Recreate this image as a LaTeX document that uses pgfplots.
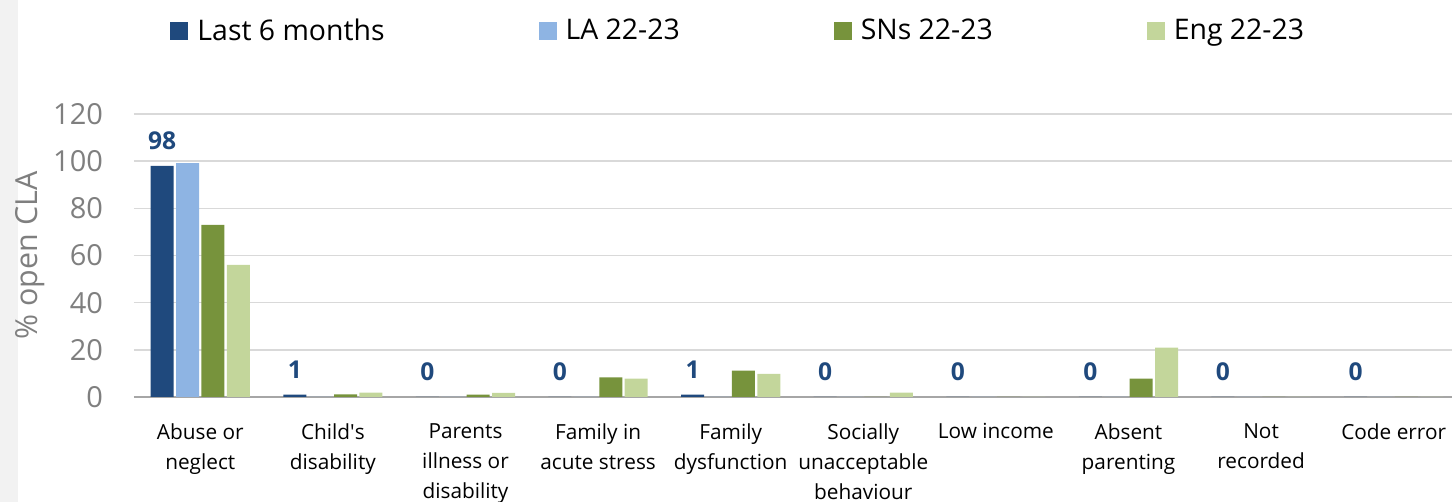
\documentclass[border=0pt]{standalone}
\usepackage{fontspec}
\setmainfont{Open Sans}
\usepackage{pgfplots}
\pgfplotsset{compat=1.18}
\definecolor{cA}{HTML}{1F497D}
\definecolor{cB}{HTML}{8EB4E3}
\definecolor{cC}{HTML}{77933C}
\definecolor{cD}{HTML}{C3D69B}
\definecolor{gridc}{HTML}{D9D9D9}
\definecolor{axc}{HTML}{A6A6A6}
\definecolor{tickc}{HTML}{7F7F7F}
\definecolor{strip}{HTML}{F2F2F2}
\pgfplotsset{sq/.style={legend image code/.code={\fill[##1] (0pt,-4.5pt) rectangle (9pt,4.5pt); \path (11.5pt,0pt);}}}
\begin{document}
\begin{tikzpicture}
\useasboundingbox (-67pt,-52.5pt) rectangle (659pt,198.5pt);
\fill[strip] (-67pt,-52.5pt) rectangle (-58pt,198.5pt);
\begin{axis}[at={(0,0)}, anchor=south west, scale only axis,
  width=663pt, height=141.5pt,
  xmin=-0.5, xmax=9.5, ymin=0, ymax=120,
  ytick={0,20,...,120},
  xtick={0,...,9},
  xticklabels={{Abuse or\\neglect},{Child\textquotesingle s\\disability},{Parents\\illness or\\disability},{Family in\\acute stress},{Family\\dysfunction},{Socially\\unacceptable\\behaviour},{Low income},{Absent\\parenting},{Not\\recorded},{Code error}},
  ymajorgrids, grid style={gridc, line width=0.75pt},
  axis line style={draw=none}, major tick style={draw=none},
  extra y ticks={0}, extra y tick labels={}, extra y tick style={grid style={axc,line width=1pt}},
  ybar, bar width=11.5pt, ybar=1.2pt,
  /pgf/number format/assume math mode=true,
  xticklabel style={font=\fontsize{10.4}{15}\selectfont, align=center, yshift=-5.5pt},
  yticklabel style={font=\fontsize{14.5}{17}\selectfont, color=tickc, xshift=-12pt},
  ylabel={\% open CLA},
  ylabel style={font=\fontsize{15.2}{17}\selectfont, color=tickc, at={(axis description cs:-0.0784,0.5)}, anchor=center},
  legend columns=4,
  legend cell align=left,
  legend style={draw=none, fill=none, inner sep=0pt, at={(axis description cs:0.0272,1.293)}, anchor=west,
    font=\fontsize{14.2}{16}\selectfont, /tikz/every even column/.append style={column sep=75pt}},
]
\addplot[fill=cA, draw=none, sq, nodes near coords,
  every node near coord/.append style={font=\bfseries\fontsize{12.3}{14}\selectfont, color=cA, inner sep=0pt, yshift=8pt, anchor=south}]
  coordinates {(0,98) (1,1) (2,0) (3,0) (4,1) (5,0) (6,0) (7,0) (8,0) (9,0)};
\addplot[fill=cB, draw=none, sq]
  coordinates {(0,99.2) (1,0) (2,0) (3,0) (4,0) (5,0) (6,0) (7,0) (8,0) (9,0)};
\addplot[fill=cC, draw=none, sq]
  coordinates {(0,73) (1,1.1) (2,1) (3,8.3) (4,11.2) (5,0) (6,0) (7,7.8) (8,0) (9,0)};
\addplot[fill=cD, draw=none, sq]
  coordinates {(0,56) (1,1.9) (2,1.8) (3,7.8) (4,9.8) (5,1.9) (6,0) (7,20.9) (8,0) (9,0)};
\legend{Last 6 months, LA 22-23, SNs 22-23, Eng 22-23}
\end{axis}
\end{tikzpicture}
\end{document}
